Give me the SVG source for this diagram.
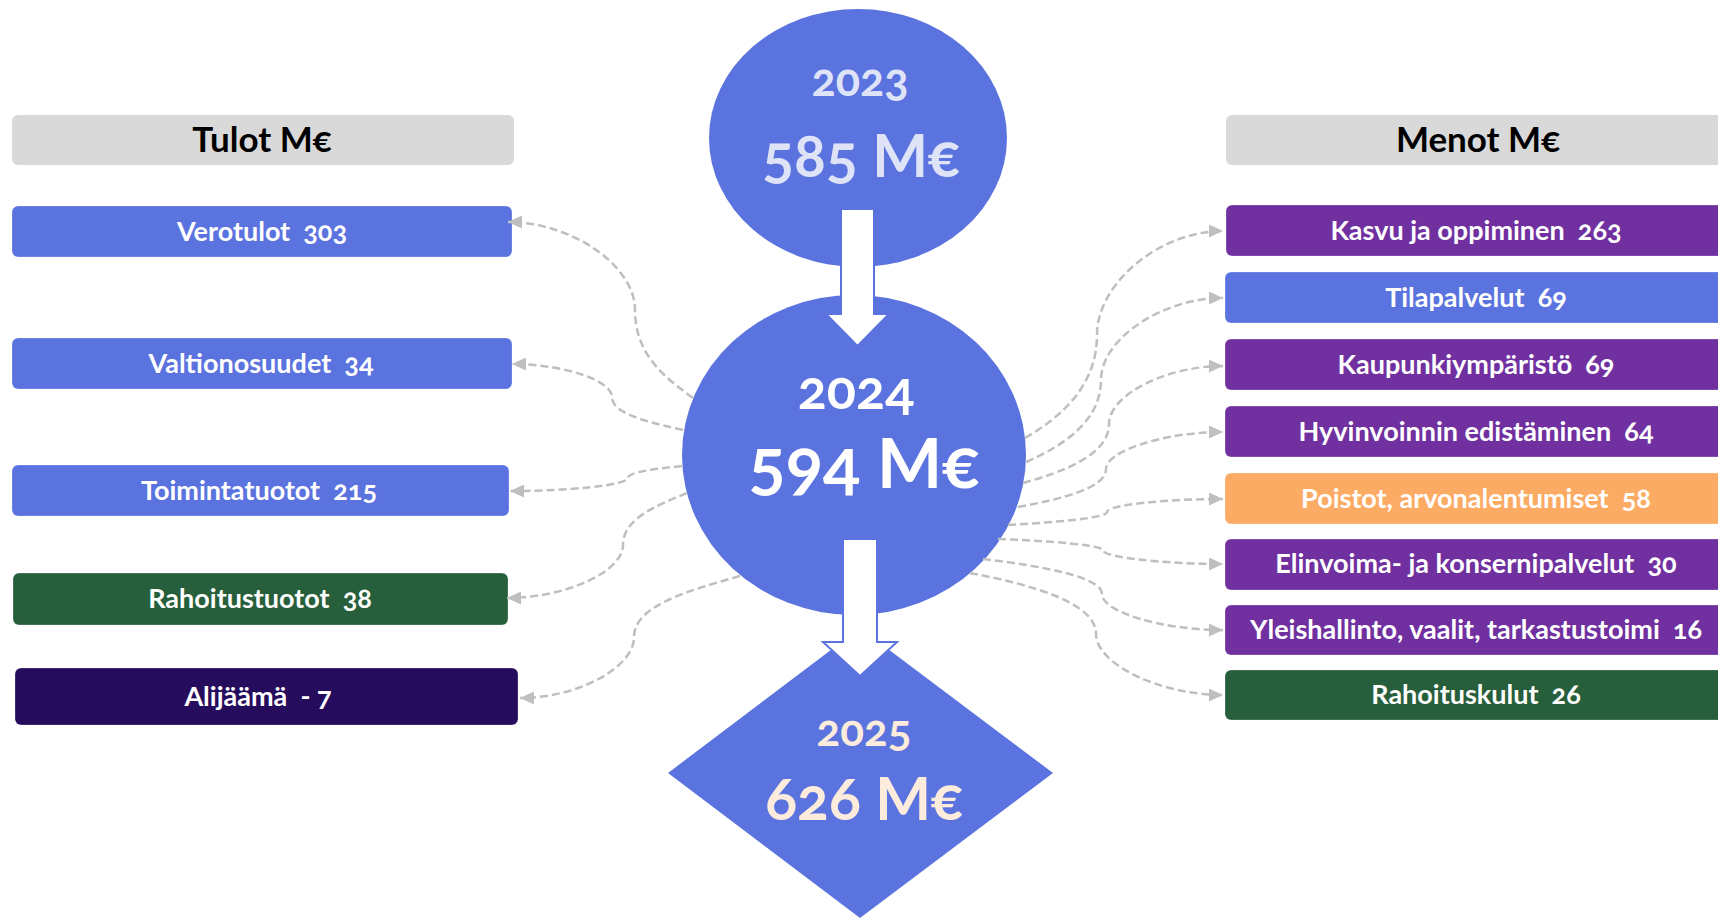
<svg xmlns="http://www.w3.org/2000/svg" width="1718" height="919" viewBox="0 0 1718 919">
<style>
.t{font-family:Lato,"Liberation Sans",sans-serif;font-weight:bold;text-anchor:middle;font-variant-numeric:oldstyle-nums;white-space:pre}
.hdr{font-size:35px;fill:#000}
.lbl{font-size:27px;fill:#fff}
.blue{fill:#5b73de}
.purple{fill:#7030a0}
.orange{fill:#fcab64}
.green{fill:#275e3b}
.navy{fill:#260c5d}
.gray{fill:#d9d9d9}
.bx{stroke:#fff;stroke-opacity:0.25;stroke-width:1}
.conn{fill:none;stroke:#bfbfbf;stroke-width:2.5;stroke-dasharray:8 4;marker-end:url(#ah)}
.flow{fill:#fff;stroke:#5b73de;stroke-width:2}
</style>
<defs>
<marker id="ah" markerUnits="userSpaceOnUse" markerWidth="14" markerHeight="13" refX="14" refY="6.5" orient="auto">
<path d="M0,0 L14,6.5 L0,13 Z" fill="#bfbfbf"/>
</marker>
</defs>
<rect width="1718" height="919" fill="#fff"/>

<g id="tulot-header"><rect class="gray" x="12" y="115" width="502" height="50" rx="6"/><text class="t hdr" x="262" y="152">Tulot M€</text></g>
<g id="verotulot"><rect class="blue bx" x="12" y="206" width="500" height="51" rx="6"/><text class="t lbl" x="262" y="241">Verotulot  303</text></g>
<g id="valtionosuudet"><rect class="blue bx" x="12" y="338" width="500" height="51" rx="6"/><text class="t lbl" x="261" y="373">Valtionosuudet  34</text></g>
<g id="toimintatuotot"><rect class="blue bx" x="12" y="465" width="497" height="51" rx="6"/><text class="t lbl" x="259" y="500">Toimintatuotot  215</text></g>
<g id="rahoitustuotot"><rect class="green bx" x="13" y="573" width="495" height="52" rx="6"/><text class="t lbl" x="260" y="608">Rahoitustuotot  38</text></g>
<g id="alijaama"><rect class="navy bx" x="15" y="668" width="503" height="57" rx="6"/><text class="t lbl" x="258" y="706">Alijäämä  - 7</text></g>

<g id="menot-header"><rect class="gray" x="1226" y="115" width="502" height="50" rx="6"/><text class="t hdr" x="1478" y="152">Menot M€</text></g>
<g id="kasvu"><rect class="purple bx" x="1226" y="205" width="502" height="51" rx="6"/><text class="t lbl" x="1476" y="240">Kasvu ja oppiminen  263</text></g>
<g id="tilapalvelut"><rect class="blue bx" x="1225" y="272" width="503" height="51" rx="6"/><text class="t lbl" x="1476" y="307">Tilapalvelut  69</text></g>
<g id="kaupunkiymparisto"><rect class="purple bx" x="1225" y="339" width="503" height="51" rx="6"/><text class="t lbl" x="1476" y="374">Kaupunkiympäristö  69</text></g>
<g id="hyvinvointi"><rect class="purple bx" x="1225" y="406" width="503" height="51" rx="6"/><text class="t lbl" x="1476" y="441">Hyvinvoinnin edistäminen  64</text></g>
<g id="poistot"><rect class="orange bx" x="1225" y="473" width="503" height="51" rx="6"/><text class="t lbl" x="1476" y="508">Poistot, arvonalentumiset  58</text></g>
<g id="elinvoima"><rect class="purple bx" x="1225" y="539" width="503" height="51" rx="6"/><text class="t lbl" x="1476" y="573">Elinvoima- ja konsernipalvelut  30</text></g>
<g id="yleishallinto"><rect class="purple bx" x="1225" y="605" width="503" height="50" rx="6"/><text class="t lbl" x="1476" y="639">Yleishallinto, vaalit, tarkastustoimi  16</text></g>
<g id="rahoituskulut"><rect class="green bx" x="1225" y="670" width="503" height="50" rx="6"/><text class="t lbl" x="1476" y="704">Rahoituskulut  26</text></g>

<g id="y2023"><ellipse class="blue" cx="858" cy="138" rx="149" ry="129"/>
<text class="t" x="860" y="96" font-size="45" fill="#dfe3f7">2023</text>
<text class="t" x="861" y="177" font-size="59" fill="#dfe3f7">585 M€</text></g>
<g id="y2024"><ellipse class="blue" cx="854" cy="455" rx="172" ry="160"/>
<text class="t" x="856" y="409" font-size="54" fill="#fff">2024</text>
<text class="t" x="864" y="488" font-size="69" fill="#fff">594 M€</text></g>
<g id="y2025"><polygon class="blue" points="860,628 1053,773 860,918 668,773"/>
<text class="t" x="864" y="746" font-size="44" fill="#fdebdc">2025</text>
<text class="t" x="864" y="820" font-size="59" fill="#fdebdc">626 M€</text></g>

<g id="connectors">
<path class="flow" d="M841,209 H874 V314 H889 L857.5,346 L826,314 H841 Z"/>
<path class="flow" d="M843,539 H877 V642 H897 L860,676 L823,642 H843 Z"/>
<path class="conn" d="M693,398 C664,377 635,354 635,310 C635,266 572,222 508,222"/>
<path class="conn" d="M683,430 C648,422 612,414 612,397 C612,380 562,364 512,364"/>
<path class="conn" d="M682,466 C655,469 628,472 628,478 C628,485 569,491 510,491"/>
<path class="conn" d="M687,493 C655,506 623,519 623,545 C623,572 565,598 507,598"/>
<path class="conn" d="M740,576 C687,591 634,606 634,637 C634,668 577,698 520,698"/>
<path class="conn" d="M1025,438 C1061,417 1097,386 1097,335 C1097,283 1160,231 1223,231"/>
<path class="conn" d="M1026,462 C1063,446 1101,421 1101,380 C1101,339 1162,298 1223,298"/>
<path class="conn" d="M1023,483 C1066,471 1109,454 1109,424 C1109,395 1166,366 1223,366"/>
<path class="conn" d="M1018,507 C1062,499 1106,488 1106,469 C1106,451 1164,432 1223,432"/>
<path class="conn" d="M1008,525 C1058,522 1107,518 1107,512 C1107,505 1165,499 1223,499"/>
<path class="conn" d="M998,539 C1051,541 1104,545 1104,551 C1104,557 1163,564 1223,564"/>
<path class="conn" d="M983,559 C1042,566 1102,577 1102,594 C1102,612 1162,630 1223,630"/>
<path class="conn" d="M970,573 C1033,585 1096,603 1096,634 C1096,664 1160,695 1223,695"/>
</g>
</svg>
